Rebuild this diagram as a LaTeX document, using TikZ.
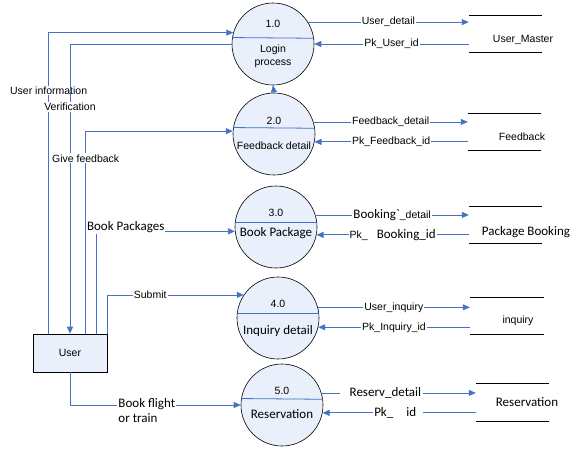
\documentclass[tikz,border=0pt]{standalone}
\usepackage{fontspec}
\setmainfont{Liberation Sans}
\newfontfamily\calfont{Carlito}
\usetikzlibrary{arrows.meta}
\definecolor{flowblue}{RGB}{68,114,196}
\definecolor{procfill}{RGB}{233,239,251}
\begin{document}
\begin{tikzpicture}[x=1pt,y=-1pt,
  every node/.style={font=\fontsize{10.5}{13}\selectfont, text=black},
  cal/.style={font=\calfont\fontsize{13}{15}\selectfont},
  proc/.style={circle, draw=black, line width=0.6pt, fill=procfill, minimum size=82pt, inner sep=0pt},
  entity/.style={rectangle, draw=black, line width=0.7pt, fill=procfill, minimum width=74pt, minimum height=38pt, inner sep=0pt},
  store/.style={rectangle, minimum width=73pt, minimum height=36pt, inner sep=0pt},
  flow/.style={draw=flowblue, line width=0.8pt},
  arr/.style={flow, -{Triangle[length=7pt,width=6pt]}},
  lbl/.style={fill=white, inner sep=1pt},
  divider/.style={draw=flowblue, line width=0.8pt},
  storeline/.style={draw=black, line width=0.7pt}
]
\useasboundingbox (0,0) rectangle (576,448);

% processes
\node[proc] (p1) at (273,44) {};
\node[proc] (p2) at (274,134) {};
\node[proc] (p3) at (276,227) {};
\node[proc] (p4) at (278,318) {};
\node[proc] (p5) at (282,405) {};
\draw[divider] (p1.171.6) -- (p1.8.4);
\draw[divider] (p2.171.6) -- (p2.8.4);
\draw[divider] (p3.173) -- (p3.7);
\draw[divider] (p4.173) -- (p4.7);
\draw[divider] (p5.171.6) -- (p5.8.4);
\node (p1n) at (273,24) {1.0};
\node[align=center] (p1t) at (273,56) {Login\\process};
\node (p2n) at (274,121) {2.0};
\node (p2t) at (274,146) {Feedback detail};
\node (p3n) at (276,213) {3.0};
\node[cal] (p3t) at (276,233) {Book Package};
\node (p4n) at (278,304) {4.0};
\node[cal] (p4t) at (278,331) {Inquiry detail};
\node (p5n) at (282,391) {5.0};
\node[cal] (p5t) at (282,414) {Reservation};

% external entity
\node[entity] (user) at (70,353) {User};

% data stores
\node[store] (s1) at (505.5,34) {};
\node[store] (s2) at (504.5,132) {};
\node[store] (s3) at (505.5,225) {};
\node[store, minimum width=74pt] (s4) at (507,316) {};
\node[store, minimum height=37pt] (s5) at (512.5,402.5) {};
\foreach \s in {s1,s2,s3,s4,s5}{
  \draw[storeline] (\s.north west) -- (\s.north east) (\s.south west) -- (\s.south east);
}
\node (s1t) at (523,40) {User\_Master};
\node (s2t) at (522,137) {Feedback};
\node[cal] (s3t) at (526,232) {Package Booking};
\node (s4t) at (518,321) {inquiry};
\node[cal] (s5t) at (527,402) {Reservation};

% flows between processes and stores
\draw[arr] (p1.32) -- (p1.32 -| s1.west) node[lbl, pos=0.5] {User\_detail};
\draw[arr] (p1.east -| s1.west) -- (p1.east) node[lbl, pos=0.5] {Pk\_User\_id};
\draw[arr] (p2.17) -- (p2.17 -| s2.west) node[lbl, pos=0.5] {Feedback\_detail};
\draw[arr] (p2.-11 -| s2.west) -- (p2.-11) node[lbl, pos=0.5] {Pk\_Feedback\_id};
\draw[arr] (p3.17) -- (p3.17 -| s3.west) node[lbl, cal, pos=0.5] {Booking\textasciigrave{\rmfamily\fontsize{10.5}{13}\selectfont\_detail}};
\draw[arr] (p3.-11 -| s3.west) -- (p3.-11)
  node[lbl, pos=0.5] {Pk\_\hspace{9pt}{\calfont\fontsize{13}{15}\selectfont Booking\_id}};
\draw[arr] (p4.15) -- (p4.15 -| s4.west) node[lbl, pos=0.5] {User\_inquiry};
\draw[arr] (p4.-13 -| s4.west) -- (p4.-13) node[lbl, pos=0.5] {Pk\_Inquiry\_id};
\draw[arr] (p5.17) -- (p5.17 -| s5.west) node[lbl, cal, pos=0.39, minimum width=83pt, text width=64pt, align=right] {Reserv\_detail};
\draw[arr] (p5.-11 -| s5.west) -- (p5.-11) node[lbl, cal, pos=0.506, minimum width=50pt, text width=48pt, align=left] {Pk\_\ \ \ id};

% process to process
\draw[arr] (p2.north) -- (p1.south);

% flows between user and processes
\draw[arr] ([xshift=16pt]user.north west) |- (p1.164) node[lbl, pos=0.404] {User information};
\draw[arr] (p1.west) -| (user.north) node[lbl, pos=0.609] {Verification};
\draw[arr] ([xshift=53pt]user.north west) |- (p2.176) node[lbl, pos=0.433] {Give feedback};
\draw[arr] ([xshift=64pt]user.north west) |- (p3.186) node[lbl, cal, pos=0.605, yshift=4pt] {Book Packages};
\draw[arr] (user.north east) |- (p4.146) node[lbl, pos=0.657] {Submit};
\draw[arr] (user.south) |- (p5.west) node[lbl, cal, pos=0.725, yshift=-5.5pt, align=left] {Book flight\\or train};
\end{tikzpicture}
\end{document}
